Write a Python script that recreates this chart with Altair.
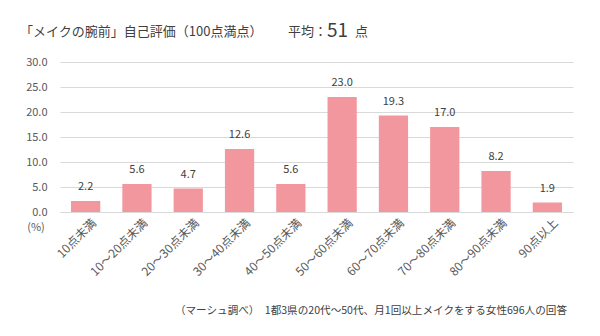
import altair as alt
import pandas as pd

categories = ["10点未満", "10～20点未満", "20～30点未満", "30～40点未満", "40～50点未満",
              "50～60点未満", "60～70点未満", "70～80点未満", "80～90点未満", "90点以上"]
values = [2.2, 5.6, 4.7, 12.6, 5.6, 23.0, 19.3, 17.0, 8.2, 1.9]
y_ticks = [0, 5, 10, 15, 20, 25, 30]

title_text = "「メイクの腕前」自己評価（100点満点）"
avg_prefix = "平均："
avg_value = "51"
avg_suffix = "点"
unit_text = "(%)"
footer_text = "（マーシュ調べ）　1都3県の20代～50代、月1回以上メイクをする女性696人の回答"

FONT = "Noto Sans CJK JP"
df = pd.DataFrame({"cat": categories, "val": values})

x_enc = alt.X("cat:N", sort=categories, title=None,
              scale=alt.Scale(paddingInner=0.43, paddingOuter=0.215),
              axis=alt.Axis(labelAngle=-45, labelFontSize=12, labelColor="#595959",
                            labelFont=FONT, ticks=False, domainColor="#D9D9D9",
                            grid=False, labelPadding=5, labelOffset=5))
y_enc = alt.Y("val:Q", title=None,
              scale=alt.Scale(domain=[0, 30]),
              axis=alt.Axis(values=y_ticks, format=".1f", labelFontSize=11,
                            labelColor="#595959", labelFont=FONT, ticks=False,
                            labelOverlap=False,
                            domain=False, gridColor="#D9D9D9", labelPadding=13))

bars = alt.Chart(df).mark_bar(color="#F2979E").encode(x=x_enc, y=y_enc)
labels = alt.Chart(df).mark_text(baseline="bottom", dy=-9, fontSize=11,
                                 color="#404040", font=FONT).encode(
    x=x_enc, y=y_enc, text=alt.Text("val:Q", format=".1f"))

def note(text, x, y, size, align="left", color="#404040"):
    d = pd.DataFrame({"t": [text]})
    return alt.Chart(d).mark_text(align=align, baseline="middle", fontSize=size,
                                  color=color, font=FONT).encode(
        x=alt.value(x), y=alt.value(y), text="t:N")

chart = alt.layer(
    bars, labels,
    note(title_text, -40, -30, 13),
    note(avg_prefix, 228, -30, 13),
    note(avg_value, 267, -31, 19),
    note(avg_suffix, 295, -30, 13),
    note(unit_text, -24, 166, 11, align="center", color="#595959"),
    note(footer_text, 507, 249, 10.6, align="right", color="#404040"),
).properties(
    width=513, height=150,
    autosize=alt.AutoSizeParams(type="none"),
    padding={"left": 60, "top": 62, "right": 27, "bottom": 124},
).configure(background="white").configure_view(stroke=None, strokeWidth=0)

chart.save("out.html", embed_options={"renderer": "svg", "actions": False})
